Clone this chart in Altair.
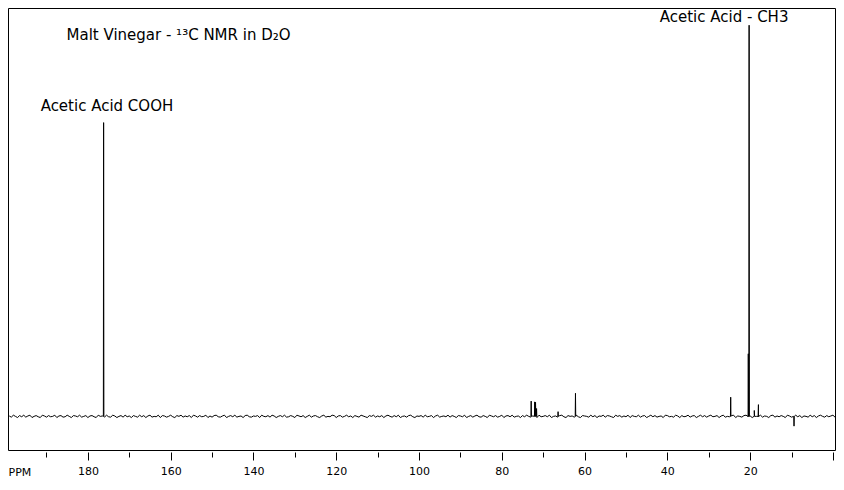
import altair as alt
import pandas as pd

# baseline grid (ppm, 0.5 ppm steps) and noise (intensity units, tallest peak = 100)
grid_ppm = [199.0 - 0.5 * i for i in range(400)]
noise = [
    0.1, -0.2, 0.3, 0.0, -0.3, 0.2, -0.1, 0.3, -0.2, 0.1,
    0.3, -0.3, 0.0, 0.2, -0.1, -0.3, 0.3, 0.1, -0.2, 0.2,
    -0.1, 0.0, 0.3, -0.3, 0.1, 0.2, -0.2, -0.1, 0.3, 0.0,
    -0.3, 0.2, 0.1, -0.1, 0.3, -0.2, 0.0, 0.2, -0.3, 0.1,
    0.2, -0.1, -0.3, 0.3, 0.0, 0.1, -0.2, 0.3, -0.1, -0.2,
    0.3, 0.1, -0.3, 0.0, 0.2, -0.2, 0.3, -0.1, 0.1, -0.3,
    0.2, 0.0, -0.2, 0.3, -0.1, 0.2, -0.3, 0.1, 0.3, -0.2,
    0.0, -0.1, 0.3, -0.3, 0.2, 0.1, -0.2, 0.0, 0.3, -0.1,
    -0.3, 0.2, 0.0, 0.3, -0.2, 0.1, -0.1, 0.2, -0.3, 0.3,
    0.1, -0.2, 0.2, -0.1, 0.0, 0.3, -0.3, 0.1, -0.2, 0.2,
    0.3, -0.1, -0.2, 0.1, 0.3, -0.3, 0.0, 0.2, -0.1, 0.3,
    -0.2, 0.0, 0.1, -0.3, 0.2, 0.3, -0.1, -0.2, 0.1, 0.0,
    0.2, -0.3, 0.3, 0.0, -0.1, 0.2, -0.2, 0.3, 0.1, -0.3,
    0.0, 0.2, -0.1, 0.3, -0.2, -0.1, 0.2, 0.0, -0.3, 0.3,
    0.1, -0.1, 0.2, -0.3, 0.0, 0.3, -0.2, 0.1, 0.2, -0.1,
    -0.3, 0.1, 0.3, -0.2, 0.0, -0.1, 0.3, 0.2, -0.3, 0.1,
    0.2, -0.2, 0.0, 0.3, -0.1, 0.1, -0.3, 0.2, 0.0, -0.2,
    0.3, 0.1, -0.1, -0.3, 0.2, 0.0, 0.3, -0.2, 0.1, -0.1,
    0.2, -0.3, 0.1, 0.3, 0.0, -0.2, 0.2, -0.1, 0.3, -0.3,
    0.0, 0.1, -0.2, 0.2, 0.3, -0.1, -0.3, 0.1, 0.0, 0.2,
    -0.2, 0.3, -0.1, 0.0, 0.2, -0.3, 0.1, 0.3, -0.2, 0.0,
    0.1, -0.1, 0.3, -0.2, 0.2, 0.0, -0.3, 0.2, 0.1, -0.1,
    0.3, -0.3, 0.0, 0.2, -0.2, 0.1, 0.3, -0.1, -0.2, 0.2,
    0.0, -0.3, 0.3, 0.1, -0.1, 0.2, -0.2, 0.0, 0.3, -0.3,
    0.1, 0.2, -0.1, 0.3, -0.2, 0.0, 0.1, -0.3, 0.2, -0.1,
    0.3, 0.0, -0.2, 0.1, 0.2, -0.3, 0.3, -0.1, 0.0, 0.2,
    -0.1, 0.3, -0.3, 0.0, 0.1, -0.2, 0.2, 0.3, -0.1, -0.3,
    0.2, 0.0, 0.1, -0.2, 0.3, -0.1, -0.3, 0.2, 0.1, 0.0,
    -0.2, 0.3, -0.1, 0.2, -0.3, 0.1, 0.0, 0.3, -0.2, 0.2,
    0.1, -0.1, -0.3, 0.3, 0.0, 0.2, -0.2, 0.1, -0.1, 0.3,
    -0.3, 0.2, 0.0, -0.1, 0.3, -0.2, 0.1, 0.2, -0.3, 0.0,
    0.3, -0.1, 0.2, -0.2, 0.0, 0.1, -0.3, 0.3, 0.2, -0.1,
    0.0, -0.2, 0.3, 0.1, -0.3, 0.2, -0.1, 0.0, 0.3, -0.2,
    0.1, 0.2, -0.3, 0.0, 0.3, -0.1, 0.2, -0.2, 0.1, 0.3,
    -0.1, 0.0, 0.2, -0.3, 0.1, 0.3, -0.2, 0.0, -0.1, 0.2,
    0.3, -0.3, 0.1, 0.0, -0.2, 0.2, 0.3, -0.1, 0.1, -0.3,
    0.2, 0.0, -0.1, 0.3, -0.2, 0.1, 0.0, -0.3, 0.2, 0.3,
    -0.2, 0.1, -0.1, 0.2, 0.0, -0.3, 0.3, 0.1, -0.2, 0.0,
    0.3, -0.1, 0.2, -0.3, 0.1, 0.0, -0.2, 0.3, -0.1, 0.2,
    -0.3, 0.1, 0.3, 0.0, -0.2, 0.2, -0.1, 0.1, 0.3, -0.2,
]

# resonances: position (ppm) and height (intensity units)
peak_ppm = [176.2, 72.9, 72.05, 71.85, 71.6, 66.4, 62.2, 24.7, 20.45, 20.25, 19.0, 18.0, 9.4]
peak_int = [75.1, 3.9, 3.7, 3.6, 2.0, 1.2, 5.9, 4.9, 16.0, 100.0, 1.5, 3.0, -2.5]

major_ticks = [0, 20, 40, 60, 80, 100, 120, 140, 160, 180]
minor_ticks = [10, 30, 50, 70, 90, 110, 130, 150, 170, 190]

ann_ppm = [175.4, 26.3, 158.1]
ann_y = [79.3, 102.2, 97.5]
ann_text = ["Acetic Acid COOH", "Acetic Acid - CH3", "Malt Vinegar - ¹³C NMR in D₂O"]

rows = list(zip(grid_ppm, noise))
for p, h in zip(peak_ppm, peak_int):
    rows += [(p + 0.06, 0.0), (p, h), (p - 0.06, 0.0)]
df = pd.DataFrame(rows, columns=["ppm", "intensity"]).sort_values("ppm", ascending=False)

FONT = "DejaVu Sans"
xscale = alt.Scale(domain=[-0.5, 199.3], reverse=True, nice=False, zero=False)
yscale = alt.Scale(domain=[-8.6, 104.4], nice=False, zero=False)

line = alt.Chart(df).mark_line(color="black", strokeWidth=1).encode(
    x=alt.X("ppm:Q", scale=xscale, axis=alt.Axis(
        values=major_ticks, labelExpr="datum.value == 0 ? '' : datum.label",
        tickSize=8, domain=False, grid=False, offset=2, orient="bottom",
        labelFont=FONT, labelFontSize=11, labelColor="black", labelPadding=5,
        tickColor="black", title="PPM", titleFont=FONT, titleFontSize=11,
        titleFontWeight="normal", titleColor="black", titleAlign="left",
        titleAnchor="start", titleBaseline="top", titleX=0, titleY=14)),
    y=alt.Y("intensity:Q", scale=yscale, axis=None),
)

minor = alt.Chart(pd.DataFrame({"ppm": minor_ticks})).mark_point(opacity=0).encode(
    x=alt.X("ppm:Q", axis=alt.Axis(values=minor_ticks, labels=False, tickSize=5,
                                  domain=False, grid=False, offset=2, orient="bottom",
                                  tickColor="black", title=None)),
    y=alt.value(0),
)

texts = alt.Chart(pd.DataFrame({"ppm": ann_ppm, "y": ann_y, "label": ann_text})).mark_text(
    font=FONT, fontSize=15, color="black", align="center", baseline="middle"
).encode(
    x=alt.X("ppm:Q", axis=None),
    y=alt.Y("y:Q", axis=None),
    text="label:N",
)

chart = alt.layer(line, minor, texts).resolve_axis(x="independent").properties(
    width=827, height=442, autosize="none",
    padding={"left": 0, "top": 0, "right": 1, "bottom": 30},
    background="white",
).configure_view(stroke="black", strokeWidth=1)

chart.save("out.html", embed_options={"renderer": "svg", "actions": False})
